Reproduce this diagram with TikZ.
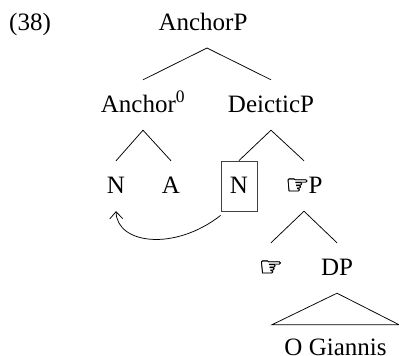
\documentclass[tikz,border=0pt]{standalone}
\usepackage{fontspec}
\setmainfont{Liberation Serif}
\newfontfamily\symfont[FakeBold=1.2]{DejaVu Sans}
\newcommand{\mani}{{\symfont\fontsize{27}{27}\selectfont\raisebox{-1pt}{☞}}}
\usetikzlibrary{arrows.meta}
\tikzset{
  tn/.style={anchor=base,inner xsep=2pt,inner ysep=10pt,text height=22pt,text depth=8pt,font=\fontsize{25}{28}\selectfont},
  edge/.style={draw=black,line width=0.75pt},
  boxed/.style={tn,draw=black!75,line width=0.9pt,minimum width=36pt,inner xsep=0pt},
  moved/.style={draw=black,line width=0.75pt,-{Straight Barb[length=7pt,width=13pt,line width=0.75pt]}}
}
\begin{document}
\begin{tikzpicture}[x=1pt,y=-1pt]
\useasboundingbox (0,0) rectangle (399,356);
\node[tn] (ex) at (30,30) {(38)};
\node[tn] (root) at (203,30) {AnchorP};
\coordinate (top) at (207,48);
\node[tn] (anc) at (143,112) {Anchor\textsuperscript{0}};
\node[tn] (dei) at (271,112) {DeicticP};
\node[tn] (n1) at (116,193) {N};
\node[tn] (a) at (171,193) {A};
\node[boxed] (n2) at (239,193) {N};
\node[tn] (mp) at (304,193) {\mani\kern-1pt P};
\node[tn] (m) at (271,275) {\mani};
\node[tn] (dp) at (337,275) {DP};
\node[tn,minimum width=127pt,inner xsep=0pt,inner ysep=0pt,text height=30pt,text depth=0pt] (og) at (335.5,355) {O Giannis};
\draw[edge] (top) -- (anc.north);
\draw[edge] (top) -- (dei.north);
\draw[edge] (anc.south) -- (n1.north);
\draw[edge] (anc.south) -- (a.north);
\draw[edge] (dei.south) -- (n2.north);
\draw[edge] (dei.south) -- (mp.north);
\draw[edge] (mp.south) -- (m.north);
\draw[edge] (mp.south) -- (dp.north);
\draw[edge] (dp.south) -- (og.north west) -- (og.north east) -- cycle;
\coordinate (start) at ([yshift=-4pt]n2.south west);
\draw[moved] (start) .. controls +(-46,36) and +(1,33) .. (n1.south);
\end{tikzpicture}
\end{document}
